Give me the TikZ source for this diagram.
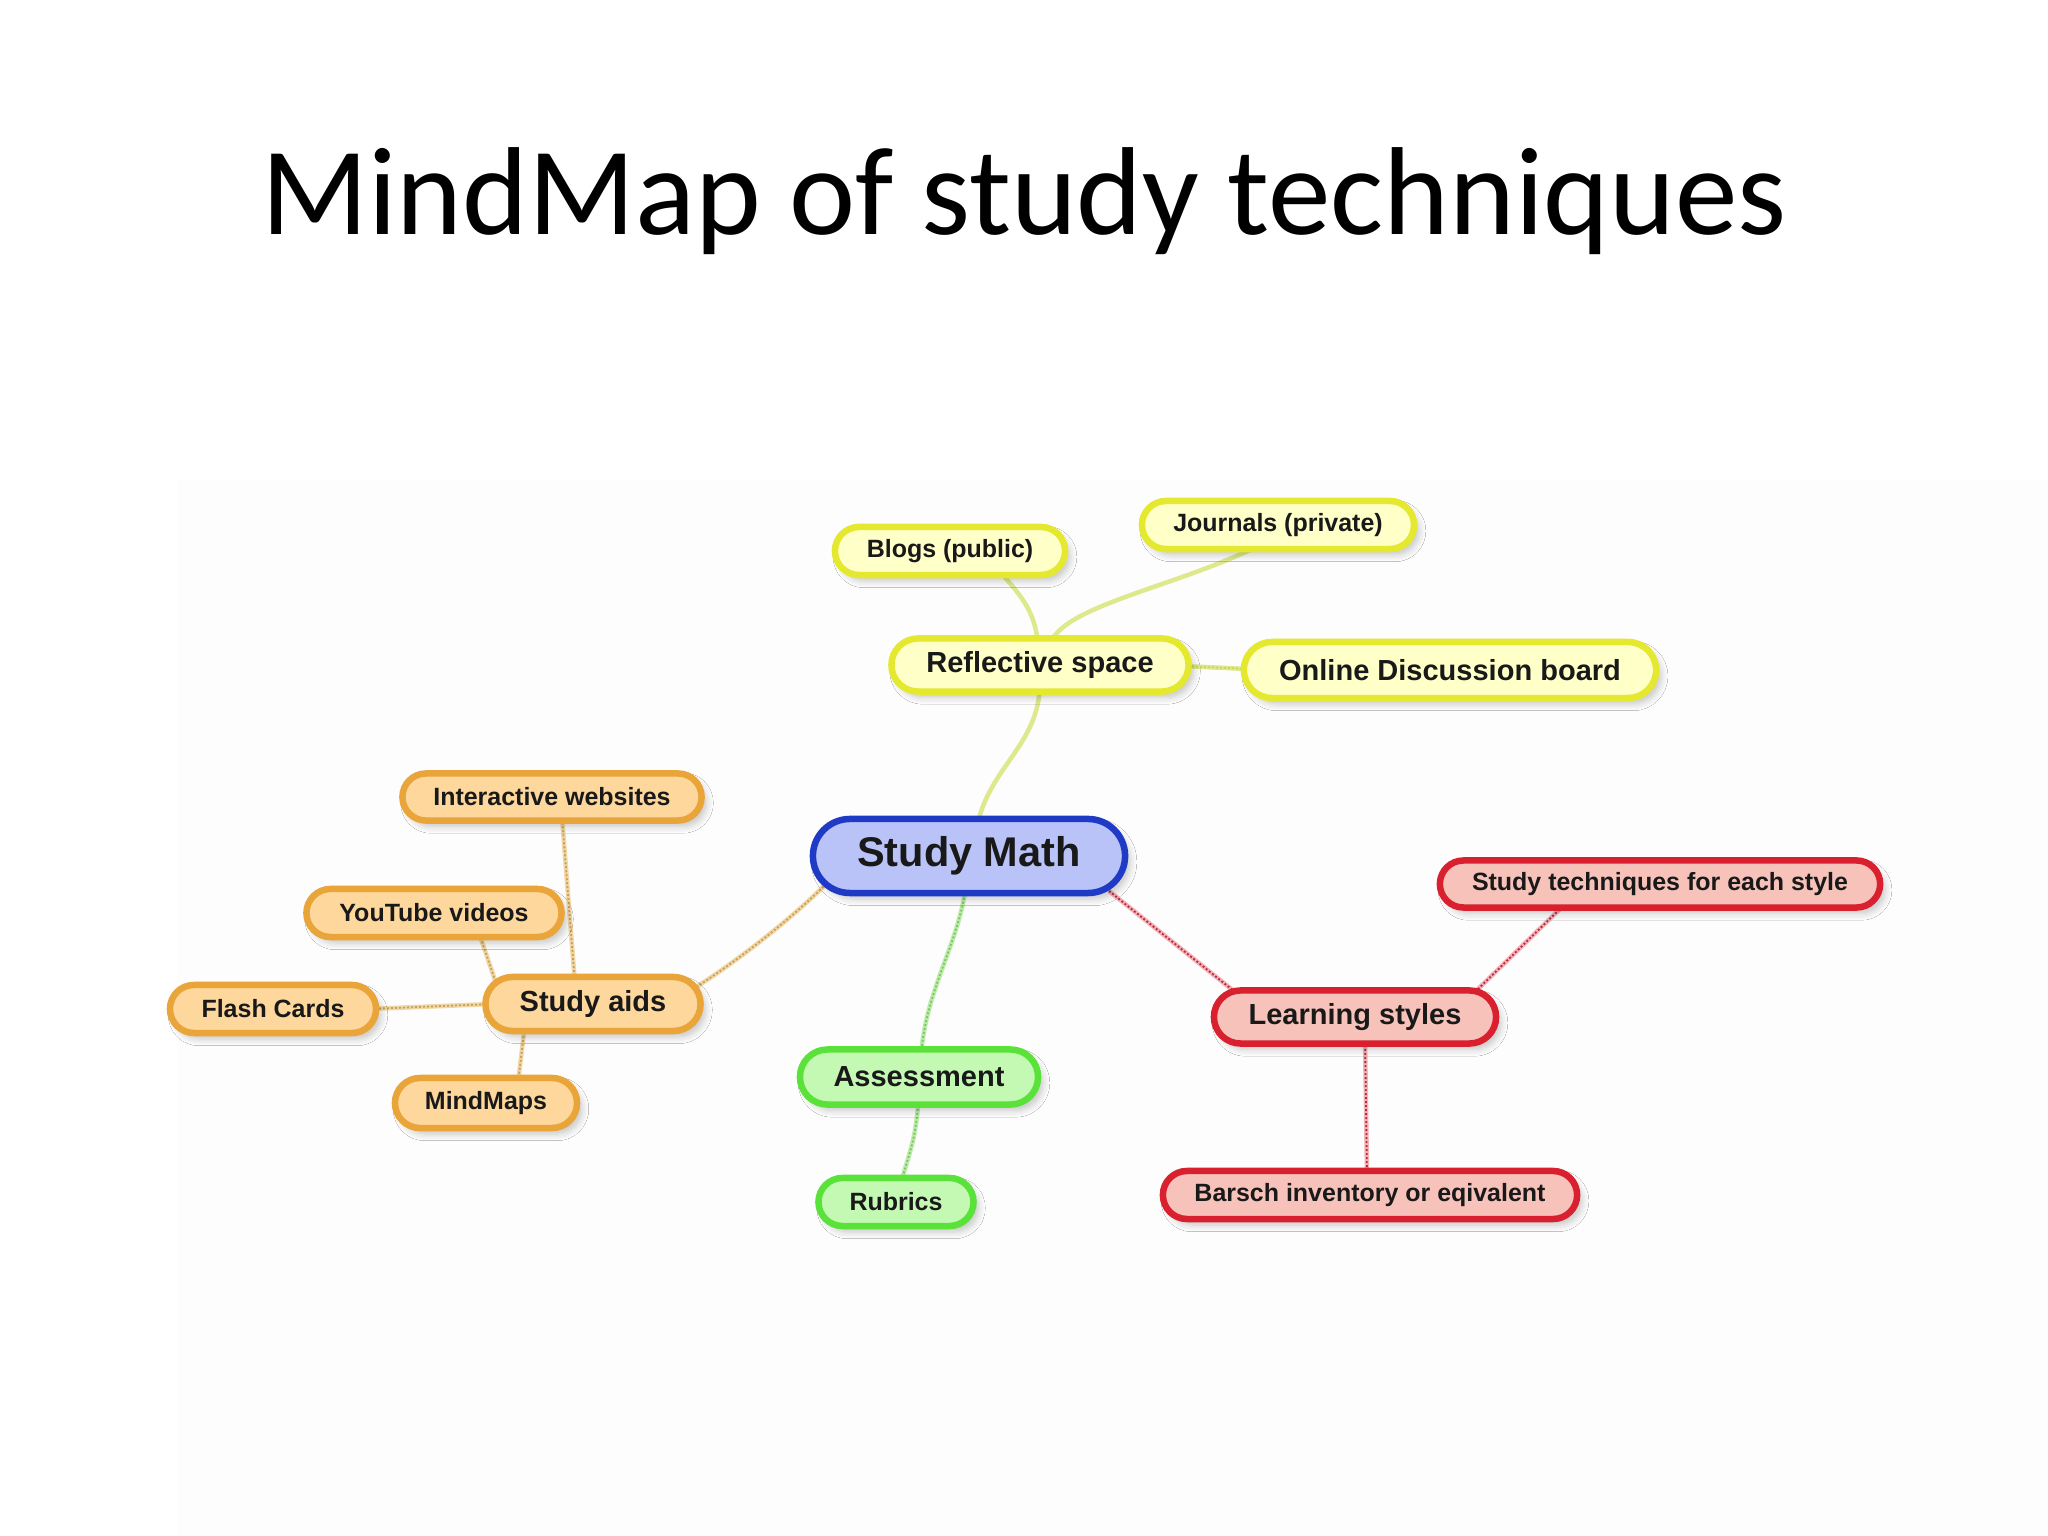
\documentclass[tikz,border=0pt]{standalone}
\usepackage{fontspec}
\setmainfont{Carlito}
\newfontfamily\nodefont{Liberation Sans}
\usetikzlibrary{shapes.misc,shadows,shadows.blur,backgrounds,calc}
\definecolor{txt}{RGB}{25,25,25}
\definecolor{yfill}{RGB}{255,255,200}
\definecolor{yline}{RGB}{228,232,46}
\definecolor{ylk}{RGB}{222,232,140}
\definecolor{ylkd}{RGB}{200,215,90}
\definecolor{ofill}{RGB}{253,215,155}
\definecolor{oline}{RGB}{233,164,58}
\definecolor{olk}{RGB}{240,215,165}
\definecolor{olkd}{RGB}{200,160,90}
\definecolor{bfill}{RGB}{185,195,247}
\definecolor{bline}{RGB}{31,59,198}
\definecolor{gfill}{RGB}{195,249,179}
\definecolor{gline}{RGB}{91,226,58}
\definecolor{glk}{RGB}{190,235,170}
\definecolor{glkd}{RGB}{120,200,100}
\definecolor{rfill}{RGB}{247,194,186}
\definecolor{rline}{RGB}{216,32,46}
\definecolor{rlk}{RGB}{240,180,185}
\definecolor{rlkd}{RGB}{190,40,60}
\definecolor{bgfaint}{RGB}{253,253,253}
\tikzset{
  box/.style={rounded rectangle, line width=0.065cm, inner sep=0pt, align=center,
    text=txt, blur shadow={shadow xshift=0.05cm, shadow yshift=-0.06cm, shadow opacity=22, shadow blur steps=6}},
  ybox/.style={box, draw=yline, fill=yfill},
  obox/.style={box, draw=oline, fill=ofill},
  bbox/.style={box, draw=bline, fill=bfill},
  gbox/.style={box, draw=gline, fill=gfill},
  rbox/.style={box, draw=rline, fill=rfill},
  leaf/.style={font=\nodefont\bfseries\fontsize{7.1pt}{8pt}\selectfont},
  mid/.style={font=\nodefont\bfseries\fontsize{8.25pt}{9pt}\selectfont},
  lnk/.style 2 args={preaction={draw=#1, line width=0.045cm}, draw=#2, line width=0.018cm, dash pattern=on 0.02cm off 0.02cm},
}
\begin{document}
\begin{tikzpicture}[x=0.01cm,y=0.01cm]
\useasboundingbox (0,0) rectangle (2048,1536);

\node[anchor=base, font=\fontsize{35.6pt}{40pt}\selectfont] (title) at (1024,1301) {MindMap of study techniques};

% nodes
\node[ybox, leaf, minimum width=2.30cm, minimum height=0.48cm] (blogs) at (950,985) {Blogs (public)};
\node[ybox, leaf, minimum width=2.72cm, minimum height=0.48cm] (journals) at (1278,1011) {Journals (private)};
\node[ybox, mid, minimum width=2.97cm, minimum height=0.53cm] (rs) at (1040,871) {Reflective space};
\node[ybox, mid, minimum width=4.12cm, minimum height=0.56cm] (odb) at (1450,866) {Online Discussion board};

\node[bbox, font=\nodefont\bfseries\fontsize{11.8pt}{13pt}\selectfont, minimum width=3.12cm, minimum height=0.74cm] (sm) at (969,680) {Study Math};

\node[obox, leaf, minimum width=2.99cm, minimum height=0.47cm] (iw) at (552,739) {Interactive websites};
\node[obox, leaf, minimum width=2.55cm, minimum height=0.48cm] (yt) at (434,623) {YouTube videos};
\node[obox, leaf, minimum width=2.06cm, minimum height=0.48cm] (fc) at (273,527) {Flash Cards};
\node[obox, mid, minimum width=2.15cm, minimum height=0.54cm] (sa) at (593,532) {Study aids};
\node[obox, leaf, minimum width=1.82cm, minimum height=0.50cm] (mm) at (486,433) {MindMaps};

\node[gbox, mid, minimum width=2.38cm, minimum height=0.55cm] (as) at (919,459) {Assessment};
\node[gbox, leaf, minimum width=1.55cm, minimum height=0.48cm] (rb) at (896,334) {Rubrics};

\node[rbox, mid, minimum width=2.82cm, minimum height=0.53cm] (ls) at (1355,519) {Learning styles};
\node[rbox, leaf, minimum width=4.40cm, minimum height=0.47cm] (stes) at (1660,652) {Study techniques for each style};
\node[rbox, leaf, minimum width=4.14cm, minimum height=0.48cm] (bi) at (1370,341) {Barsch inventory or eqivalent};

\begin{scope}[on background layer]
\fill[white] (0,0) rectangle (2048,1536);
\fill[bgfaint] (177,0) rectangle (2048,1056);
% yellow
\draw[lnk={ylk}{ylk}] ($(sm)+(8,30)$) .. controls (990,770) and (1038,790) .. ($(rs)+(0,-20)$);
\draw[lnk={ylk}{ylk}] ($(rs)+(-2,20)$) .. controls (1035,930) and (1015,945) .. ($(blogs)+(50,-20)$);
\draw[lnk={ylk}{ylk}] ($(rs)+(10,20)$) .. controls (1060,930) and (1180,950) .. ($(journals)+(-18,-20)$);
\draw[lnk={ylk}{ylkd}] ($(rs)+(120,0)$) -- ($(odb)+(-180,0)$);
% orange
\draw[lnk={olk}{olkd}] ($(sm)+(-140,-25)$) .. controls (790,615) and (730,570) .. ($(sa)+(100,15)$);
\draw[lnk={olk}{olkd}] ($(sa)+(-18,20)$) -- ($(iw)+(10,-20)$);
\draw[lnk={olk}{olkd}] ($(sa)+(-95,15)$) -- ($(yt)+(45,-20)$);
\draw[lnk={olk}{olkd}] ($(sa)+(-100,0)$) -- ($(fc)+(95,0)$);
\draw[lnk={olk}{olkd}] ($(sa)+(-68,-20)$) -- ($(mm)+(32,20)$);
% green
\draw[lnk={glk}{glkd}] ($(sm)+(-3,-30)$) .. controls (958,590) and (925,545) .. ($(as)+(2,20)$);
\draw[lnk={glk}{glkd}] ($(as)+(0,-20)$) .. controls (915,400) .. ($(rb)+(5,20)$);
% red
\draw[lnk={rlk}{rlkd}] ($(sm)+(140,-35)$) -- ($(ls)+(-120,25)$);
\draw[lnk={rlk}{rlkd}] ($(ls)+(120,25)$) -- ($(stes)+(-95,-20)$);
\draw[lnk={rlk}{rlkd}] ($(ls)+(10,-20)$) -- ($(bi)+(-3,20)$);
\end{scope}
\end{tikzpicture}
\end{document}
